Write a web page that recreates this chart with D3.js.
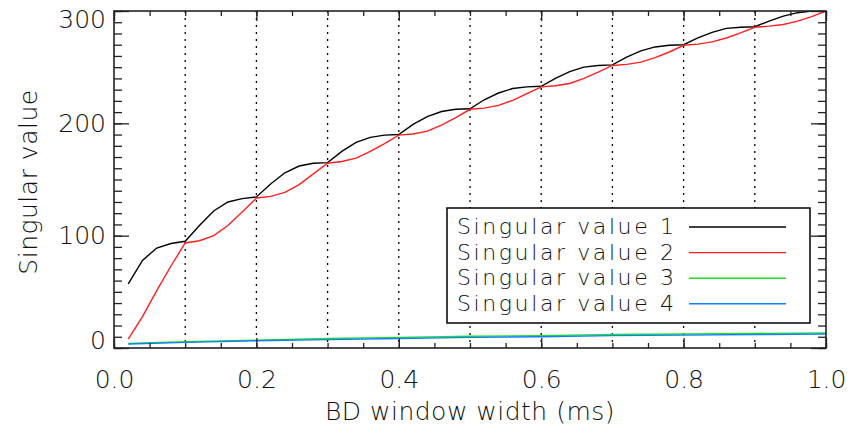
<!DOCTYPE html>
<html>
<head>
<meta charset="utf-8">
<script src="https://cdn.jsdelivr.net/npm/d3@7"></script>
<style>
  body { margin: 0; background: #fff; }
  svg text { font-family: "DejaVu Sans", sans-serif; font-weight: 200; fill: #111; }
</style>
</head>
<body>
<div id="chart"></div>
<script>
// Define svg dimensions
var svgWidth = 850;
var svgHeight = 430;

// Plot box inside the svg
var plot = { left: 114, right: 826, top: 11, bottom: 348 };

// Data: window widths (ms) and singular values
var xMain = [0.02, 0.04, 0.06, 0.08, 0.10, 0.12, 0.14, 0.16, 0.18, 0.20,
             0.22, 0.24, 0.26, 0.28, 0.30, 0.32, 0.34, 0.36, 0.38, 0.40,
             0.42, 0.44, 0.46, 0.48, 0.50, 0.52, 0.54, 0.56, 0.58, 0.60,
             0.62, 0.64, 0.66, 0.68, 0.70, 0.72, 0.74, 0.76, 0.78, 0.80,
             0.82, 0.84, 0.86, 0.88, 0.90, 0.92, 0.94, 0.96, 0.98, 1.00];

var sv1 = [57, 78, 89, 93, 95, 109, 122, 130, 133, 134.5,
           146, 156, 162, 164.5, 165, 175, 183, 187.5, 189.5, 190,
           199, 206, 210.5, 212.5, 213, 221, 227, 231, 232.5, 233,
           240, 246, 250, 251.5, 252, 259, 264.5, 268, 269.5, 270,
           276, 281, 284.5, 285.5, 286, 291, 295.5, 298.5, 300, 300.5];

var sv2 = [8, 28, 51, 73, 93.5, 95.5, 100, 109, 121, 133.5,
           135, 138.5, 145.5, 155, 164.5, 166, 169, 175, 182, 189.5,
           190.5, 193, 198.5, 205, 212.5, 213.5, 216, 220.5, 226.5, 232.5,
           233.5, 235.5, 240, 245.5, 251.5, 252.5, 254.5, 258.5, 263.5, 269.5,
           270.5, 272.5, 276, 280.5, 285.5, 286.5, 288, 291, 295, 300];

var xSmall = [0.02, 0.1, 0.2, 0.3, 0.4, 0.5, 0.6, 0.7, 0.8, 0.9, 1.0];
var sv3 = [4, 5.5, 7, 8.5, 9.5, 10.5, 11, 12, 12.5, 13, 13.5];
var sv4 = [3.5, 5, 6.5, 7.5, 8.5, 9.5, 10, 11, 11.5, 12, 12.5];

var seriesNames = ["Singular value 1", "Singular value 2", "Singular value 3", "Singular value 4"];
var seriesColors = ["#000000", "#ff2020", "#20e020", "#1080ff"];

var xTickLabels = [0, 0.2, 0.4, 0.6, 0.8, 1.0];
var xMinorTicks = d3.range(0, 1.0001, 0.05);
var xGridLines = [0.1, 0.2, 0.3, 0.4, 0.5, 0.6, 0.7, 0.8, 0.9];
var yTickLabels = [0, 100, 200, 300];
var yMinorTicks = d3.range(0, 301, 10);

var xLabel = "BD window width (ms)";
var yLabel = "Singular value";

// Add svg element
var svg = d3.select("#chart")
  .append("svg")
  .attr("width", svgWidth)
  .attr("height", svgHeight);

// Scales
var xScale = d3.scaleLinear().domain([0, 1]).range([plot.left, plot.right]);
var yScale = d3.scaleLinear().domain([0, 300]).range([plot.bottom, plot.top]);

// Clip curves to the plot box
svg.append("clipPath").attr("id", "clip")
  .append("rect")
  .attr("x", plot.left).attr("y", plot.top)
  .attr("width", plot.right - plot.left).attr("height", plot.bottom - plot.top);

// Dotted vertical grid lines
svg.append("g").selectAll("line")
  .data(xGridLines)
  .enter()
  .append("line")
  .attr("x1", d => xScale(d)).attr("x2", d => xScale(d))
  .attr("y1", plot.top).attr("y2", plot.bottom)
  .attr("stroke", "#000")
  .attr("stroke-width", 1.3)
  .attr("stroke-dasharray", "2,5");

// Curves
var line = d3.line()
  .x(d => xScale(d[0]))
  .y(d => yScale(d[1]));

var curves = [
  d3.zip(xSmall, sv3),
  d3.zip(xSmall, sv4),
  d3.zip(xMain, sv1),
  d3.zip(xMain, sv2)
];
var curveColors = [seriesColors[2], seriesColors[3], seriesColors[0], seriesColors[1]];

svg.append("g")
  .attr("clip-path", "url(#clip)")
  .selectAll("path")
  .data(curves)
  .enter()
  .append("path")
  .attr("d", line)
  .attr("fill", "none")
  .attr("stroke", (d, i) => curveColors[i])
  .attr("stroke-width", 1.4);

// Axes helper
function styleAxis(g) {
  g.select(".domain").remove();
  g.selectAll(".tick line").attr("stroke", "#222").attr("stroke-width", 1.3);
  g.selectAll("text").attr("font-size", "25px").attr("fill", "#111");
}

// Bottom axis: minor + labelled major ticks
svg.append("g")
  .attr("transform", `translate(0, ${plot.bottom})`)
  .call(d3.axisBottom(xScale).tickValues(xMinorTicks).tickSize(-5).tickFormat(""))
  .call(styleAxis);

svg.append("g")
  .attr("transform", `translate(0, ${plot.bottom})`)
  .call(d3.axisBottom(xScale).tickValues(xTickLabels).tickSize(-10).tickPadding(22)
    .tickFormat(d3.format(".1f")))
  .call(styleAxis);

// Top axis
svg.append("g")
  .attr("transform", `translate(0, ${plot.top})`)
  .call(d3.axisTop(xScale).tickValues(xMinorTicks).tickSize(-5).tickFormat(""))
  .call(styleAxis);

svg.append("g")
  .attr("transform", `translate(0, ${plot.top})`)
  .call(d3.axisTop(xScale).tickValues(xTickLabels).tickSize(-10).tickFormat(""))
  .call(styleAxis);

// Left axis
svg.append("g")
  .attr("transform", `translate(${plot.left}, 0)`)
  .call(d3.axisLeft(yScale).tickValues(yMinorTicks).tickSize(-8).tickFormat(""))
  .call(styleAxis);

var leftAxis = svg.append("g")
  .attr("transform", `translate(${plot.left}, 0)`)
  .call(d3.axisLeft(yScale).tickValues(yTickLabels).tickSize(-15).tickPadding(8)
    .tickFormat(d3.format("d")))
  .call(styleAxis);

// End labels are nudged inside like the original
leftAxis.selectAll("text")
  .attr("y", d => d === 300 ? 8 : d === 0 ? -8 : 0);

// Right axis
svg.append("g")
  .attr("transform", `translate(${plot.right}, 0)`)
  .call(d3.axisRight(yScale).tickValues(yMinorTicks).tickSize(-8).tickFormat(""))
  .call(styleAxis);

svg.append("g")
  .attr("transform", `translate(${plot.right}, 0)`)
  .call(d3.axisRight(yScale).tickValues(yTickLabels).tickSize(-15).tickFormat(""))
  .call(styleAxis);

// Plot frame
svg.append("rect")
  .attr("x", plot.left).attr("y", plot.top)
  .attr("width", plot.right - plot.left).attr("height", plot.bottom - plot.top)
  .attr("fill", "none")
  .attr("stroke", "#222")
  .attr("stroke-width", 1.6);

// Axis titles
svg.append("text")
  .attr("x", 470)
  .attr("y", 420)
  .attr("text-anchor", "middle")
  .attr("font-size", "25px")
  .attr("letter-spacing", "0.5px")
  .text(xLabel);

svg.append("text")
  .attr("transform", "translate(37, 182) rotate(-90)")
  .attr("text-anchor", "middle")
  .attr("font-size", "25px")
  .attr("letter-spacing", "0.5px")
  .text(yLabel);

// Legend
var legend = svg.append("g").classed("legend", true);

legend.append("rect")
  .attr("x", 447).attr("y", 208)
  .attr("width", 363).attr("height", 115)
  .attr("fill", "#fff")
  .attr("stroke", "#000")
  .attr("stroke-width", 1.5);

var rows = legend.selectAll(".row")
  .data(seriesNames)
  .enter()
  .append("g")
  .attr("transform", (d, i) => `translate(0, ${234 + i * 25.6})`);

rows.append("text")
  .attr("x", 457)
  .attr("y", 0)
  .attr("font-size", "22px")
  .attr("letter-spacing", "2.6px")
  .text(d => d);

rows.append("line")
  .attr("x1", 689).attr("x2", 786)
  .attr("y1", -7).attr("y2", -7)
  .attr("stroke", (d, i) => seriesColors[i])
  .attr("stroke-width", 1.4);
</script>
</body>
</html>
